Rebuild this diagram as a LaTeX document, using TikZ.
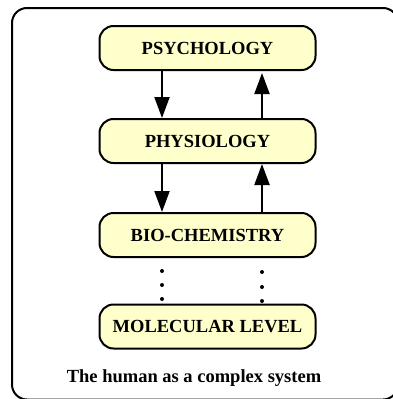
\documentclass[tikz,border=0pt]{standalone}
\usepackage{fontspec}
\setmainfont{Liberation Serif}
\usetikzlibrary{arrows.meta}
\definecolor{boxfill}{RGB}{255,255,204}

\begin{document}
\begin{tikzpicture}[x=1pt, y=-1pt,
    level/.style={draw, line width=2pt, fill=boxfill, rounded corners=14pt,
        minimum width=216pt, minimum height=44pt, inner sep=0pt,
        font=\fontsize{18.5}{20}\selectfont\bfseries},
    flow/.style={line width=2pt, -{Triangle[length=21pt, width=15pt]}}]
\useasboundingbox (0, 0) rectangle (393, 399);
\draw[line width=2pt, rounded corners=15pt] (12, 8) rectangle (398, 399.5);
\node[level] (psy)  at (207.5, 48)    {PSYCHOLOGY};
\node[level] (phys) at (207.5, 141)   {PHYSIOLOGY};
\node[level] (bio)  at (207.5, 235)   {BIO-CHEMISTRY};
\node[level] (mol)  at (207.5, 326.5) {MOLECULAR LEVEL};
\node[font=\fontsize{18.5}{20}\selectfont\bfseries] (caption) at (194, 378)
    {The human as a complex system};
% down on the left, up on the right
\draw[flow] ([xshift=-45.5pt]psy.south) -- ([xshift=-45.5pt]phys.north);
\draw[flow] ([xshift=54.5pt]phys.north) -- ([xshift=54.5pt, yshift=-2pt]psy.south);
\draw[flow] ([xshift=-45.5pt]phys.south) -- ([xshift=-45.5pt]bio.north);
\draw[flow] ([xshift=54.5pt]bio.north) -- ([xshift=54.5pt]phys.south);
% dots between bio-chemistry and molecular level
\foreach \y in {271, 285, 299}
    \fill (162, \y) circle(2pt);
\foreach \y in {272, 287, 301}
    \fill (262, \y) circle(2pt);
\end{tikzpicture}
\end{document}
